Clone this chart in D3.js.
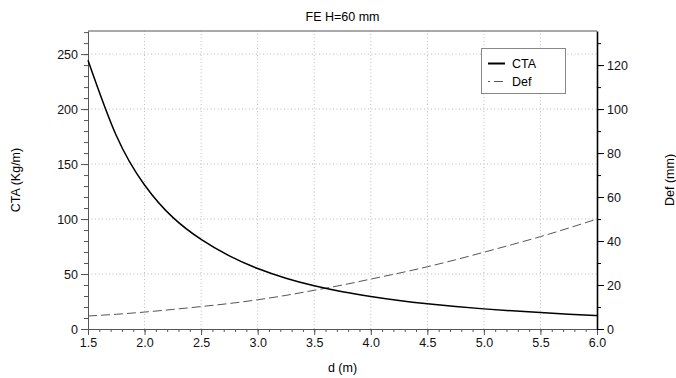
<!DOCTYPE html>
<html>
<head>
<meta charset="utf-8">
<script src="https://cdn.jsdelivr.net/npm/d3@7"></script>
<style>
  html, body { margin: 0; padding: 0; background: #fff; }
  svg { display: block; font-family: "Liberation Sans", Arial, sans-serif; }
</style>
</head>
<body>
<svg id="chart" width="676" height="378"></svg>
<script>
// ---- data ----
const title = "FE H=60 mm";
const xLabel = "d (m)";
const yLeftLabel = "CTA (Kg/m)";
const yRightLabel = "Def (mm)";
const seriesNames = ["CTA", "Def"];

const d = [1.5, 1.75, 2.0, 2.25, 2.5, 2.75, 3.0, 3.25, 3.5, 3.75, 4.0, 4.25, 4.5, 4.75, 5.0, 5.25, 5.5, 5.75, 6.0];
const cta = [244.5, 176, 131, 101.5, 81.5, 66.5, 55, 46.2, 39.3, 33.9, 29.6, 25.9, 22.9, 20.4, 18.3, 16.5, 14.9, 13.5, 12.2];
const def = [5.9, 6.7, 7.7, 8.9, 10.2, 11.6, 13.3, 15.3, 17.6, 20.0, 22.7, 25.4, 28.3, 31.5, 34.9, 38.4, 42.0, 45.9, 50.0];

const xTicks = [1.5, 2.0, 2.5, 3.0, 3.5, 4.0, 4.5, 5.0, 5.5, 6.0];
const yLeftTicks = [0, 50, 100, 150, 200, 250];
const yRightTicks = [0, 20, 40, 60, 80, 100, 120];
const xDomain = [1.5, 6.0];
const yLeftDomain = [0, 271];
const yRightDomain = [0, 135.5];

// ---- layout ----
const svg = d3.select("#chart");
const m = { left: 88, right: 676 - 597, top: 31, bottom: 378 - 329 };
const W = 676, H = 378;
const x = d3.scaleLinear().domain(xDomain).range([m.left, W - m.right]);
const yL = d3.scaleLinear().domain(yLeftDomain).range([H - m.bottom, m.top]);
const yR = d3.scaleLinear().domain(yRightDomain).range([H - m.bottom, m.top]);

const fontSize = 12.5;
const axisGrey = "#555";

// grid
const grid = svg.append("g").attr("stroke", "#bbb").attr("stroke-width", 1).attr("stroke-dasharray", "1,2.5");
xTicks.filter(t => t > xDomain[0] && t < xDomain[1]).forEach(t => {
  grid.append("line").attr("x1", x(t)).attr("x2", x(t)).attr("y1", yL(yLeftDomain[0])).attr("y2", yL(yLeftDomain[1]));
});
yLeftTicks.filter(t => t > 0).forEach(t => {
  grid.append("line").attr("x1", x(xDomain[0])).attr("x2", x(xDomain[1])).attr("y1", yL(t)).attr("y2", yL(t));
});

// top border
svg.append("line").attr("x1", x(xDomain[0])).attr("x2", x(xDomain[1]))
  .attr("y1", yL(yLeftDomain[1])).attr("y2", yL(yLeftDomain[1]))
  .attr("stroke", axisGrey).attr("stroke-width", 1);

function styleAxis(g, color) {
  g.selectAll("text").attr("font-size", fontSize).attr("fill", "#111").attr("font-family", "Liberation Sans, Arial, sans-serif");
  g.selectAll("line").attr("stroke", color);
  g.select(".domain").attr("stroke", color);
}

// bottom axis minor
const xMinor = d3.range(15, 61).map(v => v / 10);
svg.append("g").attr("transform", `translate(0,${yL(0)})`)
  .call(d3.axisBottom(x).tickValues(xMinor).tickSize(3).tickFormat(""))
  .call(g => { g.select(".domain").remove(); g.selectAll("line").attr("stroke", axisGrey); });
const gx = svg.append("g").attr("transform", `translate(0,${yL(0)})`)
  .call(d3.axisBottom(x).tickValues(xTicks).tickSize(6).tickSizeOuter(0).tickPadding(3).tickFormat(d3.format(".1f")));
styleAxis(gx, axisGrey);

// left axis
const yLMinor = d3.range(0, 271, 10);
svg.append("g").attr("transform", `translate(${x(xDomain[0])},0)`)
  .call(d3.axisLeft(yL).tickValues(yLMinor).tickSize(4).tickFormat(""))
  .call(g => { g.select(".domain").remove(); g.selectAll("line").attr("stroke", axisGrey); });
const gyl = svg.append("g").attr("transform", `translate(${x(xDomain[0])},0)`)
  .call(d3.axisLeft(yL).tickValues(yLeftTicks).tickSize(7).tickSizeOuter(0).tickPadding(3));
styleAxis(gyl, axisGrey);

// right axis
const yRMinor = d3.range(0, 136, 10);
svg.append("g").attr("transform", `translate(${x(xDomain[1])},0)`)
  .call(d3.axisRight(yR).tickValues(yRMinor).tickSize(4).tickFormat(""))
  .call(g => { g.select(".domain").remove(); g.selectAll("line").attr("stroke", "#000"); });
const gyr = svg.append("g").attr("transform", `translate(${x(xDomain[1])},0)`)
  .call(d3.axisRight(yR).tickValues(yRightTicks).tickSize(7).tickSizeOuter(0).tickPadding(3));
styleAxis(gyr, "#000");
gyr.select(".domain").attr("stroke-width", 1.6);

// lines
const lineL = d3.line().x((v, i) => x(d[i])).y(v => yL(v)).curve(d3.curveNatural);
const lineR = d3.line().x((v, i) => x(d[i])).y(v => yR(v)).curve(d3.curveNatural);
svg.append("path").attr("d", lineR(def)).attr("fill", "none").attr("stroke", "#555")
  .attr("stroke-width", 1).attr("stroke-dasharray", "9,4");
svg.append("path").attr("d", lineL(cta)).attr("fill", "none").attr("stroke", "#000")
  .attr("stroke-width", 1.5);

// legend
const lg = svg.append("g");
lg.append("rect").attr("x", 481.5).attr("y", 48.5).attr("width", 84).attr("height", 45)
  .attr("fill", "#fff").attr("stroke", "#888").attr("stroke-width", 1);
lg.append("line").attr("x1", 488).attr("x2", 505).attr("y1", 63.5).attr("y2", 63.5)
  .attr("stroke", "#000").attr("stroke-width", 2);
lg.append("line").attr("x1", 488).attr("x2", 505).attr("y1", 81.5).attr("y2", 81.5)
  .attr("stroke", "#555").attr("stroke-width", 1).attr("stroke-dasharray", "9,4").attr("stroke-dashoffset", 7);
lg.append("text").attr("x", 512).attr("y", 63.5).attr("dy", "0.35em").attr("font-size", fontSize).text(seriesNames[0]);
lg.append("text").attr("x", 512).attr("y", 81.5).attr("dy", "0.35em").attr("font-size", fontSize).text(seriesNames[1]);

// titles
svg.append("text").attr("x", (x(xDomain[0]) + x(xDomain[1])) / 2).attr("y", 21)
  .attr("text-anchor", "middle").attr("font-size", fontSize).text(title);
svg.append("text").attr("x", (x(xDomain[0]) + x(xDomain[1])) / 2).attr("y", 372)
  .attr("text-anchor", "middle").attr("font-size", fontSize).text(xLabel);
svg.append("text").attr("transform", `translate(20,${(yL(0) + yL(yLeftDomain[1])) / 2}) rotate(-90)`)
  .attr("text-anchor", "middle").attr("font-size", fontSize).text(yLeftLabel);
svg.append("text").attr("transform", `translate(674,${(yL(0) + yL(yLeftDomain[1])) / 2}) rotate(-90)`)
  .attr("text-anchor", "middle").attr("font-size", fontSize).text(yRightLabel);
</script>
</body>
</html>
